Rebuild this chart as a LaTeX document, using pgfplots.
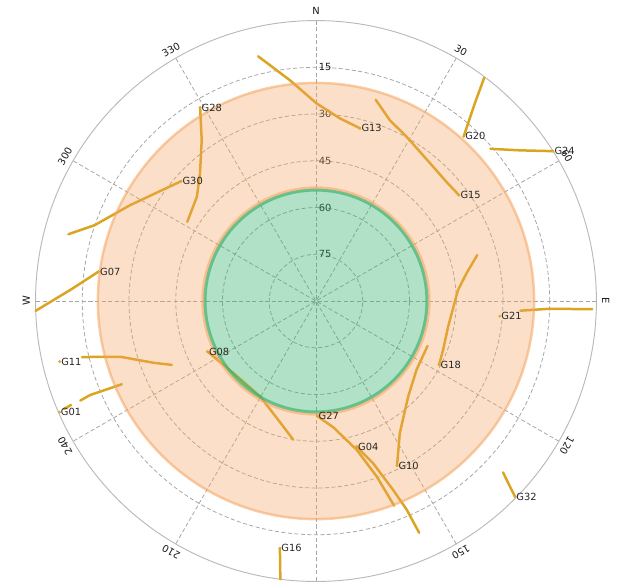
\documentclass[border=0pt]{standalone}
\usepackage{pgfplots}
\pgfplotsset{compat=1.18}
\usepackage{fontspec}
\setmainfont{DejaVu Sans}

\definecolor{track}{RGB}{218,165,32}
\definecolor{sandy}{RGB}{244,164,96}
\definecolor{seagreen}{RGB}{60,179,113}
\definecolor{gridgray}{RGB}{165,165,165}

% azimuth (deg, clockwise from north) / elevation (deg) -> sky-plot plane
\pgfplotstableset{sky/.style={row sep=\\,
  x expr={(90-\thisrow{el})*sin(\thisrow{az})},
  y expr={(90-\thisrow{el})*cos(\thisrow{az})}}}
\pgfplotsset{trk/.style={track, line width=0.8mm, no markers, line cap=round, line join=round}}
\tikzset{gridline/.style={gridgray, line width=0.25mm, dash pattern=on 1.3mm off 0.8mm}}

\begin{document}
\begin{tikzpicture}[font=\fontsize{9}{11}\selectfont]
\begin{axis}[
  x=1mm, y=1mm,
  xmin=-101.4, xmax=96.6, ymin=-89.9, ymax=96.6,
  hide axis,
]
% elevation rings and azimuth spokes
\pgfplotsinvokeforeach{15,30,45,60,75}{
  \draw[gridline] (axis cs:0,0) circle[radius=#1mm];
}
\draw[gridline] (axis cs:0,90) -- (axis cs:0,-90);
\draw[gridline] (axis cs:45,77.94) -- (axis cs:-45,-77.94);
\draw[gridline] (axis cs:77.94,45) -- (axis cs:-77.94,-45);
\draw[gridline] (axis cs:90,0) -- (axis cs:-90,0);
\draw[gridline] (axis cs:77.94,-45) -- (axis cs:-77.94,45);
\draw[gridline] (axis cs:45,-77.94) -- (axis cs:-45,77.94);
\draw[gray!55, line width=0.3mm] (axis cs:0,0) circle[radius=90mm];

% azimuth labels
\begin{scope}[text=black!90, inner sep=0pt]
\node[rotate=0]    at (axis cs:0,93)          {N};
\node[rotate=-30]  at (axis cs:46.5,80.54)    {30};
\node[rotate=-60]  at (axis cs:80.54,46.5)    {60};
\node[rotate=-90]  at (axis cs:93,0)          {E};
\node[rotate=-120] at (axis cs:80.54,-46.5)   {120};
\node[rotate=-150] at (axis cs:46.5,-80.54)   {150};
\node[rotate=150]  at (axis cs:-46.5,-80.54)  {210};
\node[rotate=120]  at (axis cs:-80.54,-46.5)  {240};
\node[rotate=90]   at (axis cs:-93,0)         {W};
\node[rotate=60]   at (axis cs:-80.54,46.5)   {300};
\node[rotate=30]   at (axis cs:-46.5,80.54)   {330};
\end{scope}
% elevation labels
\begin{scope}[text=black!90, inner sep=1pt]
\node[anchor=west] at (axis cs:0.5,75) {15};
\node[anchor=west] at (axis cs:0.5,60) {30};
\node[anchor=west] at (axis cs:0.5,45) {45};
\node[anchor=west] at (axis cs:0.5,30) {60};
\node[anchor=west] at (axis cs:0.5,15) {75};
\end{scope}

% satellite tracks
\addplot[trk] table[sky] {az el\\ 246.8 22.2\\ 247.4 11.5\\ 247.1 7.9\\};
\addplot[trk] table[sky] {az el\\ 247.0 4.6\\ 246.8 2.0\\};
\addplot[trk] table[sky] {az el\\ 156.0 8.6\\ 156.5 17.0\\ 157.8 24.6\\ 160.6 34.8\\ 164.4 41.5\\};
\addplot[trk] table[sky] {az el\\ 268.0 0.0\\ 272.6 11.1\\ 277.7 19.6\\};
\addplot[trk] table[sky] {az el\\ 189.3 44.9\\ 198.5 50.4\\ 210.3 54.5\\ 228.8 54.8\\ 245.0 51.6\\};
\addplot[trk] table[sky] {az el\\ 111.9 51.4\\ 124.4 50.9\\ 136.0 47.4\\ 147.6 39.8\\ 153.8 31.1\\};
\addplot[trk] table[sky] {az el\\ 246.1 39.4\\ 249.2 34.2\\ 254.1 24.7\\ 255.7 17.5\\ 256.5 12.8\\};
\addplot[trk] table[sky] {az el\\ 346.7 9.3\\ 353.3 18.7\\ 0.2 26.6\\ 7.5 30.9\\ 14.3 32.8\\};
\addplot[trk] table[sky] {az el\\ 16.5 22.6\\ 22.2 27.3\\ 28.9 29.8\\ 41.1 32.8\\ 47.6 33.3\\ 53.5 32.9\\};
\addplot[trk] table[sky] {az el\\ 187.3 0.0\\ 188.3 9.8\\};
\addplot[trk] table[sky] {az el\\ 74.1 36.2\\ 79.6 40.9\\ 85.6 44.3\\ 101.0 46.8\\ 111.0 46.3\\ 117.4 45.5\\};
\addplot[trk] table[sky] {az el\\ 37.0 0.3\\ 38.8 8.7\\ 41.9 19.0\\};
\addplot[trk] table[sky] {az el\\ 92.7 24.3\\ 91.9 15.0\\ 91.7 1.3\\};
\addplot[trk] table[sky] {az el\\ 48.9 15.7\\ 53.5 8.7\\ 57.7 0.0\\};
\addplot[trk] table[sky] {az el\\ 159.1 19.7\\ 160.9 30.4\\ 164.7 40.5\\ 172.2 49.1\\ 179.4 53.1\\};
\addplot[trk] table[sky] {az el\\ 301.6 41.5\\ 311.2 39.2\\ 317.8 34.6\\ 324.6 26.7\\ 329.1 17.6\\};
\addplot[trk] table[sky] {az el\\ 285.1 7.7\\ 288.9 14.9\\ 297.3 22.9\\ 311.6 32.1\\};
\addplot[trk] table[sky] {az el\\ 132.5 8.6\\ 134.5 0.5\\};

% latest position of each satellite
\addplot[track, only marks, mark=*, mark size=1.1pt,
  mark options={draw=none, fill=track!80},
  point meta=explicit symbolic, nodes near coords,
  every node near coord/.append style={anchor=west, inner sep=1.2pt, text=black!85}]
  table[sky, meta=name] {name az el\\
G01 246.6 0.3\\
G04 164.4 41.5\\
G07 277.7 19.6\\
G08 245.0 51.6\\
G10 153.8 31.1\\
G11 256.7 5.5\\
G13 14.3 32.8\\
G15 53.5 32.9\\
G16 188.3 9.8\\
G18 117.4 45.5\\
G20 41.9 19.0\\
G21 94.7 30.8\\
G24 57.7 0.0\\
G27 179.4 53.1\\
G28 329.1 17.6\\
G30 311.6 32.1\\
G32 134.5 0.5\\
};

% elevation zones: 20 to 54.5 deg, and above 54.5 deg
\fill[sandy, fill opacity=0.35, even odd rule]
  (axis cs:0,0) circle[radius=70mm] (axis cs:0,0) circle[radius=35.6mm];
\draw[sandy, draw opacity=0.55, line width=0.8mm] (axis cs:0,0) circle[radius=70mm];
\draw[sandy, draw opacity=0.55, line width=0.8mm] (axis cs:0,0) circle[radius=36.4mm];
\fill[seagreen, fill opacity=0.4] (axis cs:0,0) circle[radius=35.6mm];
\draw[seagreen, draw opacity=0.7, line width=0.95mm] (axis cs:0,0) circle[radius=35.6mm];
\end{axis}
\pgfresetboundingbox
\path[use as bounding box] (current axis.south west) rectangle (current axis.north east);
\end{tikzpicture}
\end{document}
